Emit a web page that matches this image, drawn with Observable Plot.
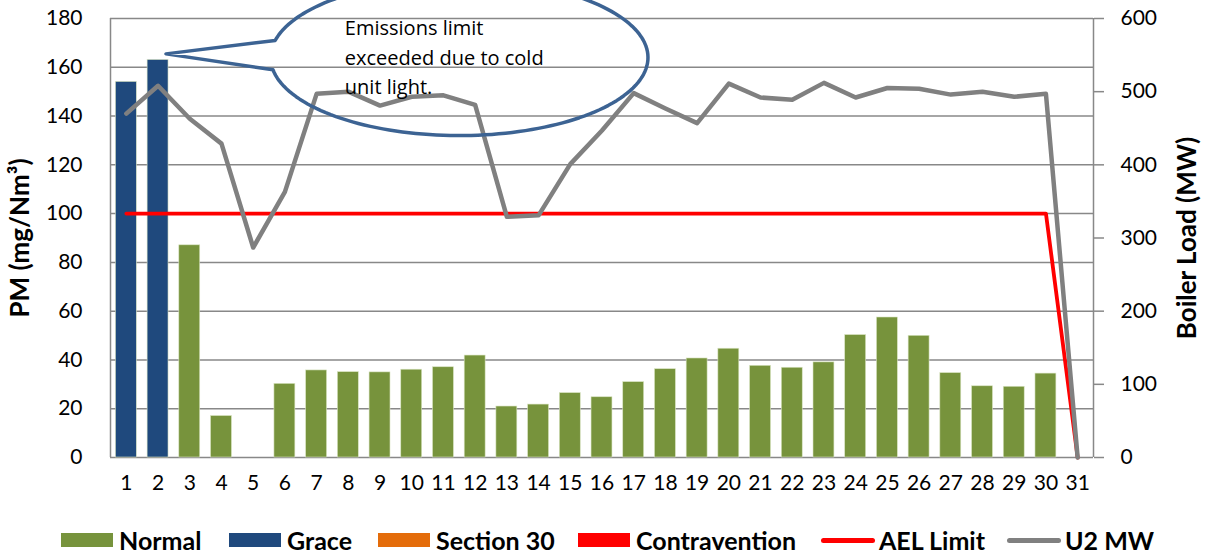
<!DOCTYPE html>
<html><head><meta charset="utf-8">
<script src="https://cdn.jsdelivr.net/npm/d3@7"></script>
<script src="https://cdn.jsdelivr.net/npm/@observablehq/plot@0.6"></script>
<style>
body{margin:0;background:#fff;font-family:Lato,"Open Sans",sans-serif;}
#chart{position:relative;width:1207px;height:556px;overflow:hidden}
.item{position:absolute;top:526px;height:28px;display:flex;align-items:center;font-weight:bold;font-size:25px;color:#000;white-space:nowrap;line-height:28px}
.sw{width:52px;height:14px;margin-right:6px}
.ln{width:54px;height:5px;border-radius:3px;margin-right:4px}
</style></head><body>
<div id="chart"></div>
<script>
const days = [1,2,3,4,5,6,7,8,9,10,11,12,13,14,15,16,17,18,19,20,21,22,23,24,25,26,27,28,29,30,31];
const pm = [154,163,87,17,0,30.2,35.7,35,34.9,36,37,41.8,20.9,21.7,26.4,24.7,30.9,36.2,40.6,44.6,37.6,36.8,39,50.2,57.4,49.9,34.6,29.2,29,34.4,null];
const status = ["Grace","Grace","Normal","Normal","Normal","Normal","Normal","Normal","Normal","Normal","Normal","Normal","Normal","Normal","Normal","Normal","Normal","Normal","Normal","Normal","Normal","Normal","Normal","Normal","Normal","Normal","Normal","Normal","Normal","Normal",null];
const u2mw = [470,508,463,429,287,363,497,500,481,493,495,482,329,331,401,447,498,477,457,511,492,489,512,492,505,504,496,500,493,497,0];
const ael = [100,100,100,100,100,100,100,100,100,100,100,100,100,100,100,100,100,100,100,100,100,100,100,100,100,100,100,100,100,100,0];
const leftTicks = [0,20,40,60,80,100,120,140,160,180];
const rightTicks = [0,100,200,300,400,500,600];
const categories = ["Normal","Grace","Section 30","Contravention"];
const catColors = ["#77933C","#1F497D","#E46C0A","#FF0000"];
const legendLabels = ["Normal","Grace","Section 30","Contravention","AEL Limit","U2 MW"];
const noteText = "Emissions limit\nexceeded due to cold\nunit light.";
// callout annotation (data units)
const note = {cx: 11.5, cy: 164, rx: 5.95, ry: 32, tipDay: 2.25, tipPM: 165.5, upOff: 7, lowOff: -5, textDay: 7.89, textPM: 165};

const mwScale = 180 / 600;
const rows = days.map((d, i) => ({day: d, pm: pm[i], status: status[i], mw: u2mw[i] * mwScale, ael: ael[i]}));
const bars = rows.filter(r => r.pm != null && r.pm > 0);

// callout outline
const t0 = Math.PI - Math.asin(note.upOff / note.ry);
const t1 = -(Math.PI - Math.asin(-note.lowOff / note.ry));
const outline = [];
const N = 160;
for (let k = 0; k <= N; k++) {
  const t = t0 + (t1 - t0) * k / N;
  outline.push({x: note.cx + note.rx * Math.cos(t), y: note.cy + note.ry * Math.sin(t)});
}
outline.push({x: note.tipDay, y: note.tipPM});
outline.push(outline[0]);

const gridCol = "#888888";
const chart = Plot.plot({
  width: 1207, height: 515,
  marginTop: 18, marginBottom: 58, marginLeft: 110, marginRight: 114,
  style: {fontFamily: "Lato, 'Open Sans', sans-serif", fontSize: "21px", color: "#000", background: "transparent"},
  x: {domain: [0.5, 31.5], axis: null},
  y: {domain: [0, 180], axis: null},
  color: {domain: categories, range: catColors},
  marks: [
    Plot.ruleY(leftTicks, {stroke: gridCol, strokeWidth: 1.5}),
    Plot.ruleX([0.5, 31.5], {stroke: gridCol, strokeWidth: 1.5}),
    Plot.rect(bars, {x1: d => d.day - 0.33, x2: d => d.day + 0.33, y1: 0, y2: "pm", fill: "status", stroke: "#d9e4c2", strokeWidth: 0.6}),
    Plot.line(rows, {x: "day", y: "ael", stroke: "#FF0000", strokeWidth: 3.8}),
    Plot.line(rows, {x: "day", y: "mw", stroke: "#808080", strokeWidth: 4.5}),
    Plot.line(outline, {x: "x", y: "y", stroke: "#3C6393", strokeWidth: 3.5, curve: "linear"}),
    Plot.text([noteText], {x: note.textDay, y: note.textPM, text: d => d, textAnchor: "start", lineAnchor: "middle", lineHeight: 1.475, fontSize: 20, fontFamily: "'Open Sans', sans-serif", fill: "#000"}),
    // left axis labels
    Plot.text(leftTicks, {y: d => d, frameAnchor: "left", dx: -28, textAnchor: "end", text: d => d, fontSize: 21}),
    // right axis ticks and labels
    Plot.axisY({anchor: "right", ticks: rightTicks.map(v => v * mwScale), tickFormat: () => "", tickSize: 10, label: null, stroke: gridCol, strokeWidth: 1.5}),
    Plot.text(rightTicks, {y: d => d * mwScale, frameAnchor: "right", dx: 27, textAnchor: "start", text: d => d, fontSize: 21}),
    Plot.axisX({ticks: days, tickFormat: d => d, tickSize: 0, tickPadding: 18, label: null, fontSize: 21}),
    Plot.text(["PM (mg/Nm³)"], {frameAnchor: "left", dx: -90, rotate: -90, textAnchor: "middle", text: d => d, fontWeight: "bold", fontSize: 26}),
    Plot.text(["Boiler Load (MW)"], {frameAnchor: "right", dx: 94, rotate: -90, textAnchor: "middle", text: d => d, fontWeight: "bold", fontSize: 26})
  ]
});
const host = document.getElementById("chart");
host.appendChild(chart);

// legend (HTML, below the SVG)
const legendColors = [catColors[0], catColors[1], catColors[2], catColors[3], "#FF0000", "#808080"];
const legendKinds = ["sw","sw","sw","sw","ln","ln"];
const legendLeft = [61, 229, 378, 578, 821, 1007];
legendLabels.forEach((label, i) => {
  const el = document.createElement("div");
  el.className = "item";
  el.style.left = legendLeft[i] + "px";
  const s = document.createElement("span");
  s.className = legendKinds[i];
  s.style.background = legendColors[i];
  const t = document.createElement("span");
  t.textContent = label;
  el.appendChild(s); el.appendChild(t);
  host.appendChild(el);
});
</script>
</body></html>
